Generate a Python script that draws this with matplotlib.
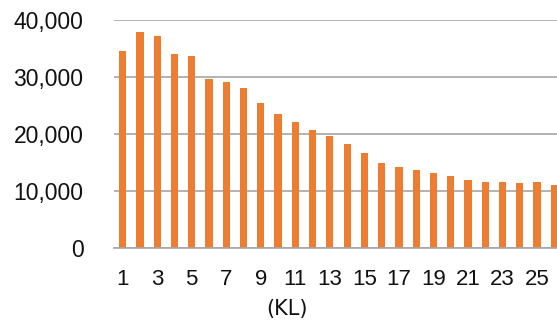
import matplotlib.pyplot as plt
from matplotlib.ticker import FuncFormatter

# Volume per size class
sizes = list(range(1, 27))
volumes = [34600, 37940, 37180, 34070, 33720, 29670, 29150, 28090, 25450, 23570,
           22160, 20760, 19650, 18190, 16710, 14950, 14200, 13610, 13090, 12610,
           11910, 11610, 11560, 11380, 11500, 11030]
tick_labels = [str(s) for s in sizes[::2]]

fig = plt.figure(figsize=(5.57, 3.22), dpi=100)
# plot area runs slightly past the right edge
ax = fig.add_axes([114 / 557, 1 - 247.7 / 322, 449 / 557, 227.4 / 322])

ax.bar(sizes, volumes, width=0.42, color="#ED7D31", zorder=3)

ax.set_xlim(0.5, 26.5)
ax.set_ylim(0, 40000)
ax.set_yticks([0, 10000, 20000, 30000, 40000])
ax.yaxis.set_major_formatter(FuncFormatter(lambda v, _: f"{int(v):,}"))
ax.set_xticks(sizes[::2])
ax.set_xticklabels(tick_labels)

ax.grid(axis="y", color="#A6A6A6", linewidth=1.2, zorder=0)
for side in ["top", "right", "left"]:
    ax.spines[side].set_visible(False)
ax.spines["bottom"].set_color("#A6A6A6")
ax.spines["bottom"].set_linewidth(1.2)
ax.spines["bottom"].set_zorder(4)

ax.tick_params(axis="y", length=0, pad=22, labelsize=16.5, labelcolor="#111111")
ax.tick_params(axis="x", length=0, pad=15, labelsize=16, labelcolor="#111111")
for lab in ax.get_yticklabels():
    lab.set_family("Liberation Sans")
for lab in ax.get_xticklabels():
    lab.set_family(["Liberation Sans Narrow", "Liberation Sans"])

fig.text(287 / 557, 1 - 309 / 322, "(KL)", ha="center", va="center",
         fontsize=15, family=["Liberation Sans Narrow", "DejaVu Sans"], color="#111111")

fig.savefig("out.png", dpi=100)
